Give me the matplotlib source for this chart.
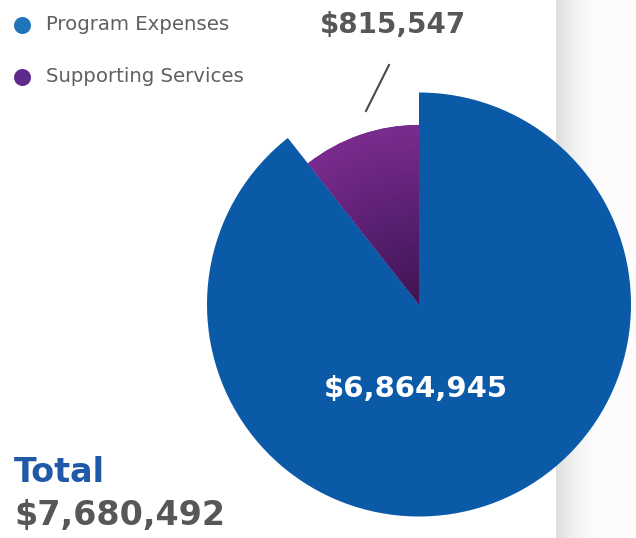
import numpy as np
import matplotlib.pyplot as plt
from matplotlib.colors import LinearSegmentedColormap

# data
categories = ["Program Expenses", "Supporting Services"]
amounts = [6864945, 815547]
total = 7680492

BLUE = "#0b5aa8"
LEGEND_COLORS = ["#1f74ba", "#5e2a8d"]
GRAY = "#575757"

W, H = 636, 538
fig = plt.figure(figsize=(W / 100, H / 100), dpi=100)
ax = fig.add_axes([0, 0, 1, 1])
ax.set_xlim(0, W)
ax.set_ylim(0, H)
ax.set_aspect("equal")
ax.axis("off")

# page shadow band on the right
shade = np.linspace(0, 1, 200).reshape(1, -1)
shade_cmap = LinearSegmentedColormap.from_list("shade", ["#dedede", "#f3f3f3", "#fcfcfc"])
ax.imshow(shade, cmap=shade_cmap, extent=(556, 595, 0, H), aspect="auto", zorder=0)
ax.axvspan(595, W, color="#fcfcfc", lw=0, zorder=0)

cx, cy = 419, H - 304.5
r_big = 212
r_small = r_big * 0.847

# big slice
big, _ = ax.pie(amounts, colors=[BLUE, "none"], startangle=90, counterclock=False,
                radius=r_big, center=(cx, cy), frame=True)
# small slice, drawn smaller
small, _ = ax.pie(amounts, colors=["none", "#6a2789"], startangle=90, counterclock=False,
                  radius=r_small, center=(cx, cy), frame=True)
for w in big + small:
    w.set_zorder(2)
    w.set_linewidth(0)
ax.set_xlim(0, W)
ax.set_ylim(0, H)
ax.axis("off")

# radial gradient on the supporting services slice
gx = np.linspace(cx - r_small, cx + r_small, 300)
gy = np.linspace(cy - r_small, cy + r_small, 300)
GX, GY = np.meshgrid(gx, gy)
dist = np.hypot(GX - cx, GY - cy) / r_small
grad_cmap = LinearSegmentedColormap.from_list("purp", ["#3f1452", "#5a2072", "#7a2c8e"])
im = ax.imshow(dist, cmap=grad_cmap, vmin=0, vmax=1, origin="lower",
               extent=(gx[0], gx[-1], gy[0], gy[-1]), zorder=3)
im.set_clip_path(small[1])

# legend
for i, (name, col) in enumerate(zip(categories, LEGEND_COLORS)):
    y = H - (25 + 52 * i)
    ax.scatter([22], [y], s=150, color=col, zorder=4, lw=0)
    ax.text(46, y, name, fontsize=14.2, color="#606060", va="center", ha="left")

# value labels
ax.text(393, H - 25, f"${amounts[1]:,}", fontsize=20, fontweight="bold",
        color=GRAY, ha="center", va="center")
ax.plot([366, 389], [H - 111, H - 65], color="#4a4a4a", lw=1.5, zorder=4)
ax.text(416, H - 389, f"${amounts[0]:,}", fontsize=21, fontweight="bold",
        color="white", ha="center", va="center", zorder=5)

# total
ax.text(14, H - 473, "Total", fontsize=24, fontweight="bold", color="#2159a9",
        ha="left", va="center")
ax.text(14, H - 516, f"${total:,}", fontsize=24, fontweight="bold", color=GRAY,
        ha="left", va="center")

fig.savefig("out.png", dpi=100)
